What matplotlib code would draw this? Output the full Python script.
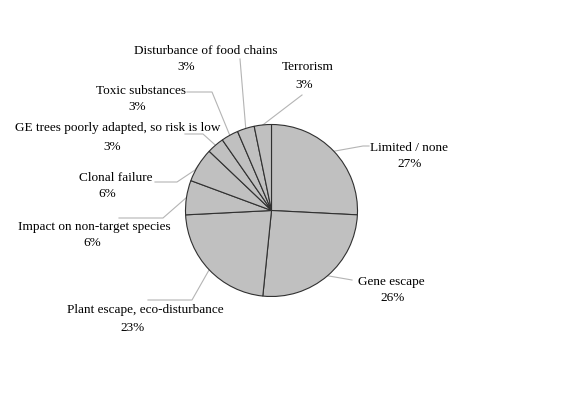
import numpy as np
import matplotlib
matplotlib.use('Agg')
from matplotlib import pyplot as plt

# slices clockwise from 12 o'clock (sizes)
names = ['Limited / none', 'Gene escape', 'Plant escape, eco-disturbance',
         'Impact on non-target species', 'Clonal failure',
         'GE trees poorly adapted, so risk is low', 'Toxic substances',
         'Disturbance of food chains', 'Terrorism']
counts = [8, 8, 7, 2, 2, 1, 1, 1, 1]
pct_text = ['27%', '26%', '23%', '6%', '6%', '3%', '3%', '3%', '3%']

# label placement in pixels: (name left, name y, pct left, pct y)
label_pos = [(370, 148, 397, 164), (358, 282, 380, 298), (67, 310, 120, 328),
             (18, 227, 83, 243), (79, 178, 98, 194), (15, 128, 103, 147),
             (96, 91, 128, 107), (134, 51, 177, 67), (282, 67, 295, 85)]
# leader line elbows (pixels), drawn from the wedge rim
elbows = [[(363, 146), (369, 146)], [(352, 280)], [(192, 300), (148, 300)],
          [(163, 218), (119, 218)], [(195, 170), (177, 182), (155, 182)],
          [(203, 134), (185, 134)], [(212, 92), (187, 92)],
          [(240, 59)], [(302, 95)]]

W, H = 571, 398
cx, cy, r = 271.5, 210.5, 86

fig = plt.figure(figsize=(W / 100, H / 100), dpi=100)
ax = fig.add_axes([0, 0, 1, 1])

wedges, _ = ax.pie(counts, startangle=90, counterclock=False,
                   center=(cx, H - cy), radius=r,
                   colors=['#c0c0c0'] * len(counts),
                   wedgeprops=dict(edgecolor='#303030', linewidth=0.8))
ax.set_xlim(0, W)
ax.set_ylim(0, H)
ax.axis('off')

for w, el, (nx, ny, px, py), nm, pt in zip(wedges, elbows, label_pos, names, pct_text):
    mid = np.deg2rad((w.theta1 + w.theta2) / 2)
    pts = [(cx + r * np.cos(mid), H - cy + r * np.sin(mid))] + [(x, H - y) for x, y in el]
    xs, ys = zip(*pts)
    ax.plot(xs, ys, color='#b4b4b4', lw=0.8, zorder=0)
    ax.text(nx, H - ny, nm, ha='left', va='center', fontsize=9.5, family='Liberation Serif')
    ax.text(px, H - py, pt, ha='left', va='center', fontsize=9.5, family='Liberation Serif')

plt.savefig('out.png', dpi=100)
